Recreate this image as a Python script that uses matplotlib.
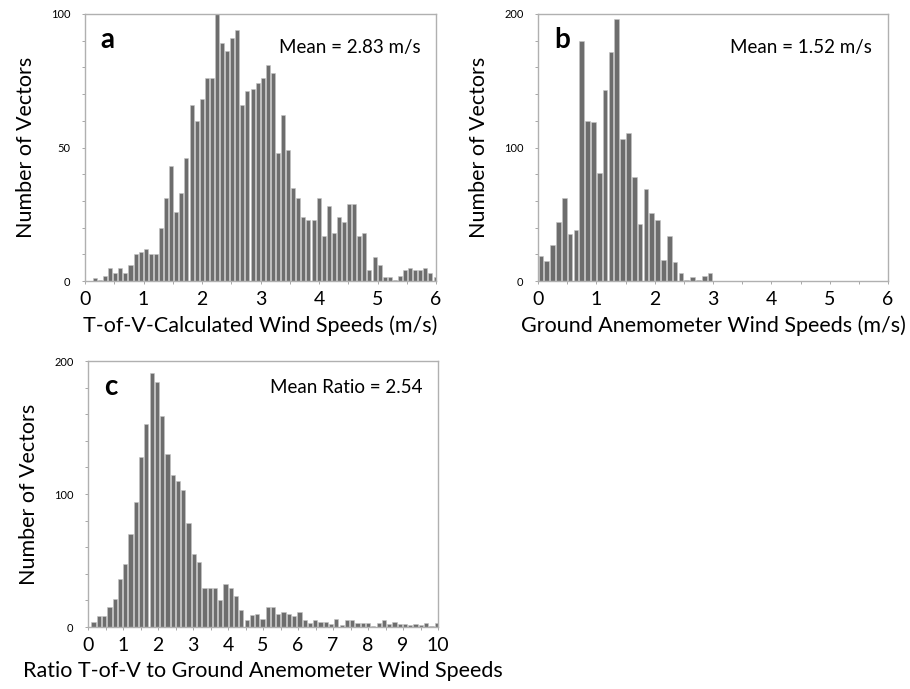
import matplotlib.pyplot as plt
from matplotlib.ticker import MultipleLocator
import numpy as np

plt.rcParams['font.family'] = ['Lato', 'DejaVu Sans']

# panel a: T-of-V calculated wind speeds (68 bins)
a_counts = [1, 0.4, 2, 5, 3, 5, 3, 6, 10, 11, 12, 10, 10, 20, 31, 43, 26, 33,
            46, 66, 60, 68, 76, 76, 100, 89, 86, 91, 94, 66, 71, 72, 74, 76,
            81, 78, 48, 62, 49, 35, 31, 24, 23, 23, 31, 17, 28, 18, 24, 22,
            29, 29, 17, 18, 4, 9, 6, 1.5, 1.5, 0.4, 2, 4, 5, 4, 4, 5, 3, 1.5]
a_start, a_step = 0.17, 0.0869

# panel b: ground anemometer wind speeds (0.1 m/s bins)
b_counts = [18.5, 15, 27, 44.5, 62.5, 35.5, 38, 180, 120, 119, 81, 143, 171.5,
            196.5, 106.5, 111, 78, 43, 69, 51, 46, 16, 34, 14, 6, 1, 3, 1, 4, 6]
b_start, b_step = 0.05, 0.1

# panel c: ratio T-of-V / ground
c_counts = [4, 8, 8, 15, 21, 36, 47, 70, 94, 128, 153, 191, 184, 159, 130, 114,
            110, 103, 78, 55, 49, 29, 29, 29, 20, 32, 29, 23, 13, 5, 9, 10, 6,
            15, 15, 10, 11, 10, 8, 11, 5, 3, 5, 4, 4, 2, 6, 1.5, 5, 5, 3, 3, 3,
            1, 3, 5, 2, 4, 2, 2, 1.5, 2, 1.5, 3, 0.6, 3]
c_start, c_step = 0.16, 0.1508

W, H = 910, 689
fig = plt.figure(figsize=(W / 100, H / 100), dpi=100)


def px_axes(x0, y0, x1, y1):
    return fig.add_axes([x0 / W, 1 - y1 / H, (x1 - x0) / W, (y1 - y0) / H])


def panel(ax, counts, start, step, xmax, ymax, ymaj, ymin, letter, note,
          xlabel, note_y):
    x = start + step * np.arange(len(counts))
    ax.bar(x, counts, width=step * 0.8, color='#6d6d6d',
           edgecolor='#c4c4c4', linewidth=0.4)
    ax.set_xlim(0, xmax)
    ax.set_ylim(0, ymax)
    ax.xaxis.set_major_locator(MultipleLocator(1))
    ax.xaxis.set_minor_locator(MultipleLocator(0.5))
    ax.yaxis.set_major_locator(MultipleLocator(ymaj))
    ax.yaxis.set_minor_locator(MultipleLocator(ymin))
    for s in ax.spines.values():
        s.set_color('#b0b0b0')
        s.set_linewidth(1.0)
    ax.tick_params(axis='both', which='both', direction='out', length=2.5,
                   width=0.6, color='#999999')
    ax.tick_params(axis='x', labelsize=14, pad=5)
    ax.tick_params(axis='y', labelsize=8, pad=8)
    ax.set_xlabel(xlabel, fontsize=15.5, labelpad=5)
    ax.set_ylabel('Number of Vectors', fontsize=15.5, labelpad=11)
    ax.text(0.045, 0.873, letter, transform=ax.transAxes, fontsize=20,
            fontweight='bold', va='baseline', ha='left')
    ax.text(0.955, note_y, note, transform=ax.transAxes, fontsize=13.5,
            va='baseline', ha='right')


ax_a = px_axes(85, 14, 436, 281)
panel(ax_a, a_counts, a_start, a_step, 6, 100, 50, 10, 'a',
      'Mean = 2.83 m/s', 'T-of-V-Calculated Wind Speeds (m/s)', 0.853)

ax_b = px_axes(538, 14, 888, 281)
panel(ax_b, b_counts, b_start, b_step, 6, 200, 100, 20, 'b',
      'Mean = 1.52 m/s', 'Ground Anemometer Wind Speeds (m/s)', 0.853)

ax_c = px_axes(88, 361, 438, 627)
panel(ax_c, c_counts, c_start, c_step, 10, 200, 100, 20, 'c',
      'Mean Ratio = 2.54', 'Ratio T-of-V to Ground Anemometer Wind Speeds',
      0.878)

fig.savefig('out.png', dpi=100)
